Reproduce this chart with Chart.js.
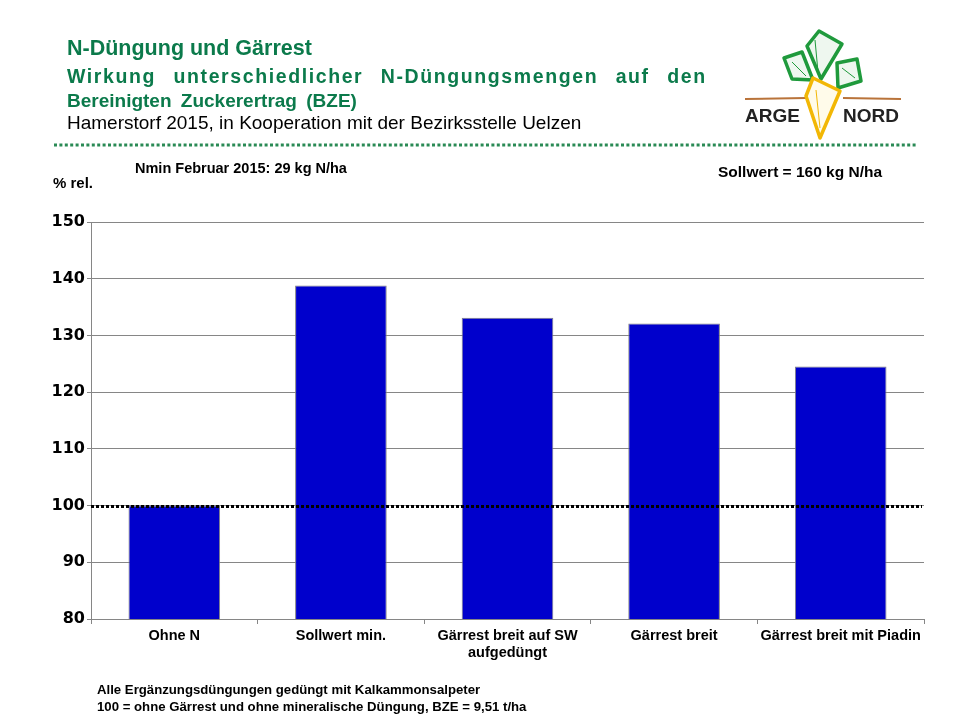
<!DOCTYPE html>
<html>
<head>
<meta charset="utf-8">
<script src="https://cdn.jsdelivr.net/npm/chart.js@4"></script>
<style>
  body { margin: 0; background: #fff; }
  #page { position: relative; width: 960px; height: 720px; overflow: hidden; font-family: "Liberation Sans", Arial, sans-serif; }
  #page canvas { position: absolute; left: 0; top: 0; }
  .txt { position: absolute; white-space: nowrap; line-height: 1; }
  .green { color: #0b7a4b; font-weight: bold; }
  .note { font-weight: bold; color: #000; }
  svg.overlay { position: absolute; left: 0; top: 0; pointer-events: none; }
</style>
</head>
<body>
<div id="page">
  <canvas id="chart" width="960" height="720"></canvas>

  <div class="txt green" style="left:67px; top:38px; font-size:21.5px;">N-Düngung und Gärrest</div>
  <div class="txt green" style="left:67px; top:67px; font-size:19.5px; letter-spacing:1.6px; word-spacing:10.5px;">Wirkung unterschiedlicher N-Düngungsmengen auf den</div>
  <div class="txt green" style="left:67px; top:91px; font-size:19px; word-spacing:4px;">Bereinigten Zuckerertrag (BZE)</div>
  <div class="txt" style="left:67px; top:113px; font-size:19px; color:#000;">Hamerstorf 2015, in Kooperation mit der Bezirksstelle Uelzen</div>

  <div class="txt note" style="left:135px; top:161px; font-size:14.5px;">Nmin Februar 2015: 29 kg N/ha</div>
  <div class="txt note" style="left:53px; top:175px; font-size:15px;">% rel.</div>
  <div class="txt note" style="left:718px; top:164px; font-size:15.5px;">Sollwert = 160 kg N/ha</div>

  <div class="txt note" style="left:97px; top:683px; font-size:13.2px;">Alle Ergänzungsdüngungen gedüngt mit Kalkammonsalpeter</div>
  <div class="txt note" style="left:97px; top:700px; font-size:13.2px;">100 = ohne Gärrest und ohne mineralische Düngung, BZE = 9,51 t/ha</div>

  <svg class="overlay" width="960" height="720">
    <!-- green dotted separator -->
    <line x1="54" y1="145" x2="916" y2="145" stroke="#2a8a55" stroke-width="3" stroke-dasharray="3,2.4"/>
    <!-- logo -->
    <g fill="none" stroke-linejoin="round">
      <polygon points="784,58 802,52 813,80 792,79" stroke="#1f9a3c" stroke-width="3.5" fill="#eef7ef"/>
      <polygon points="819,31 842,44 821,79 807,46" stroke="#1f9a3c" stroke-width="3.5" fill="#eef7ef"/>
      <polygon points="837,63 857,59 861,81 838,88" stroke="#1f9a3c" stroke-width="3.5" fill="#eef7ef"/>
      <line x1="792" y1="62" x2="806" y2="76" stroke="#1f9a3c" stroke-width="1"/>
      <line x1="815" y1="40" x2="818" y2="72" stroke="#1f9a3c" stroke-width="1"/>
      <line x1="842" y1="68" x2="855" y2="78" stroke="#1f9a3c" stroke-width="1"/>
      <line x1="745" y1="99" x2="806" y2="98" stroke="#b9733a" stroke-width="2"/>
      <line x1="843" y1="98" x2="901" y2="99" stroke="#b9733a" stroke-width="2"/>
      <polygon points="813,78 840,91 820,138 806,96" stroke="#f2b705" stroke-width="3.5" fill="#fffbea"/>
      <line x1="816" y1="90" x2="820" y2="128" stroke="#f2b705" stroke-width="1"/>
    </g>
    <text x="745" y="122" font-family="Liberation Sans, Arial, sans-serif" font-weight="bold" font-size="19" fill="#222">ARGE</text>
    <text x="843" y="122" font-family="Liberation Sans, Arial, sans-serif" font-weight="bold" font-size="19" fill="#222">NORD</text>
  </svg>
</div>

<script>
// Chart data
const categories = ['Ohne N', 'Sollwert min.', ['Gärrest breit auf SW', 'aufgedüngt'], 'Gärrest breit', 'Gärrest breit mit Piadin'];
const relYield = [100, 138.8, 133.1, 132.1, 124.5];
const yMin = 80;
const yMax = 150;
const yStep = 10;
const referenceLevel = 100;

// dotted reference line at 100 %
const referenceLine = {
  id: 'referenceLine',
  afterDatasetsDraw(chart) {
    const { ctx, chartArea, scales } = chart;
    const y = Math.round(scales.y.getPixelForValue(referenceLevel)) + 0.5;
    ctx.save();
    ctx.strokeStyle = '#000';
    ctx.lineWidth = 3;
    ctx.setLineDash([3, 2]);
    ctx.beginPath();
    ctx.moveTo(chartArea.left, y);
    ctx.lineTo(chartArea.right - 2, y);
    ctx.stroke();
    ctx.restore();
  }
};

const ctx = document.getElementById('chart').getContext('2d');
new Chart(ctx, {
  type: 'bar',
  data: {
    labels: categories,
    datasets: [{
      data: relYield,
      backgroundColor: '#0000cc',
      borderColor: '#808080',
      borderWidth: 1,
      barPercentage: 0.55,
      categoryPercentage: 1
    }]
  },
  options: {
    responsive: false,
    animation: false,
    layout: { padding: { top: 222, right: 36, bottom: 51, left: 0 } },
    plugins: {
      legend: { display: false },
      tooltip: { enabled: false }
    },
    scales: {
      x: {
        afterFit: s => { s.height = 50; },
        grid: { offset: true, drawOnChartArea: false, drawTicks: true, tickLength: 5, color: '#868686' },
        border: { color: '#868686', width: 1 },
        ticks: {
          color: '#000',
          padding: 4,
          maxRotation: 0,
          font: { family: 'Liberation Sans, Arial, sans-serif', size: 14.5, weight: 'bold', lineHeight: 1.17 }
        }
      },
      y: {
        min: yMin,
        max: yMax,
        afterFit: s => { s.width = 91; },
        grid: { color: '#868686', lineWidth: 1, drawTicks: true, tickLength: 4 },
        border: { color: '#868686', width: 1 },
        ticks: {
          stepSize: yStep,
          color: '#000',
          padding: 2,
          font: { family: 'DejaVu Sans, sans-serif', size: 16, weight: 'bold' }
        }
      }
    }
  },
  plugins: [referenceLine]
});
</script>
</body>
</html>
